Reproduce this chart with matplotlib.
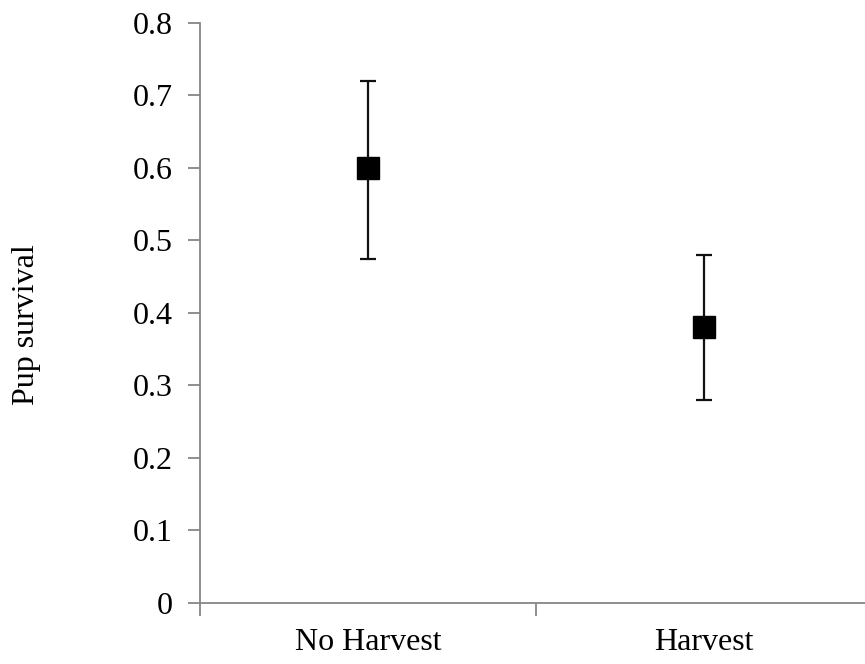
import matplotlib.pyplot as plt

groups = ["No Harvest", "Harvest"]
survival = [0.60, 0.38]
lower = [0.475, 0.28]
upper = [0.72, 0.48]

W, H = 865, 664
fig = plt.figure(figsize=(W / 100, H / 100), dpi=100)
plt.rcParams["font.family"] = ["Liberation Serif", "DejaVu Serif"]

x0, x1 = 200, 872
y0, y1 = 602.7, 23
ax = fig.add_axes([x0 / W, (H - y0) / H, (x1 - x0) / W, (y0 - y1) / H])

xs = list(range(len(groups)))
yerr = [[s - lo for s, lo in zip(survival, lower)],
        [hi - s for s, hi in zip(survival, upper)]]
ax.errorbar(xs, survival, yerr=yerr, fmt="s", color="black", ecolor="#111111",
            markersize=15.5, elinewidth=1.6, capsize=6, capthick=1.6, zorder=3)

ax.set_xlim(-0.5, len(groups) - 0.5)
ax.set_ylim(0, 0.8)
ax.set_yticks([i / 10 for i in range(9)])
ax.set_yticklabels(["0"] + [f"{i / 10:.1f}" for i in range(1, 9)])
ax.set_xticks(xs)
ax.set_xticklabels(groups)
ax.set_xticks([-0.5, 0.5, 1.5], minor=True)
ax.tick_params(axis="x", which="major", length=0, pad=18, labelsize=23)
ax.tick_params(axis="x", which="minor", length=9, width=1.3, color="#868686")
ax.tick_params(axis="y", length=9, width=1.3, color="#868686", pad=10.5, labelsize=23)

for side in ("top", "right"):
    ax.spines[side].set_visible(False)
for side in ("left", "bottom"):
    ax.spines[side].set_color("#868686")
    ax.spines[side].set_linewidth(1.3)

ax.set_ylabel("Pup survival", fontsize=23, labelpad=66)
ax.yaxis.label.set_y(0.5 - 12 / (y0 - y1))

fig.savefig("out.png", dpi=100)
